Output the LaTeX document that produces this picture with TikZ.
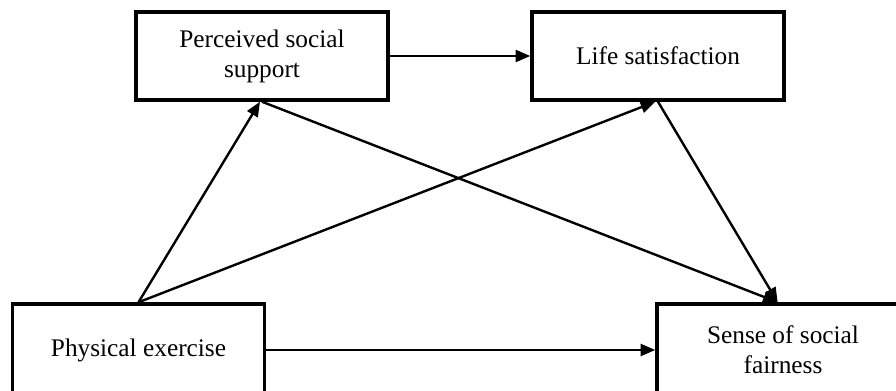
\documentclass[tikz,border=0pt]{standalone}
\usepackage{fontspec}
\setmainfont{Liberation Serif}
\usetikzlibrary{arrows.meta}
\begin{document}
\begin{tikzpicture}[x=0.75pt,y=-0.75pt,
  box/.style={draw,line width=2.6pt,minimum width=189pt,minimum height=66pt,inner sep=0pt,align=center,
    font=\fontsize{19}{22.5}\selectfont},
  arr/.style={line width=1.8pt,-{Triangle[length=11pt,width=9pt]}}]
\useasboundingbox (0,0) rectangle (896,391);
\clip (0,0) rectangle (896,391);
\fill[white] (0,0) rectangle (896,391);
\node[box] (pss) at (262,56) {Perceived social\\support};
\node[box] (ls) at (658,56) {Life satisfaction};
\node[box,minimum height=69pt] (pe) at (138.5,350) {Physical exercise};
\node[box,minimum height=69pt] (ssf) at (783,350) {Sense of social\\fairness};
\draw[arr] (pss.east) -- (ls.west);
\draw[arr] (pe.east) -- (ssf.west);
\draw[arr] (pe.north) -- ([xshift=-1.5pt]pss.south);
\draw[arr] (pe.north) -- ([xshift=-2pt]ls.south);
\draw[arr] (pss.south) -- ([xshift=-4pt]ssf.north);
\draw[arr] (ls.south) -- ([xshift=-4pt]ssf.north);
\end{tikzpicture}
\end{document}
